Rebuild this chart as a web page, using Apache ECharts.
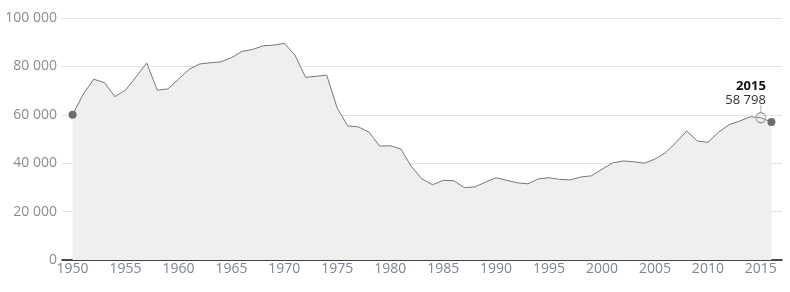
<!DOCTYPE html>
<html>
<head>
<meta charset="utf-8">
<script src="https://cdn.jsdelivr.net/npm/echarts@6/dist/echarts.min.js"></script>
<style>
  html, body { margin: 0; padding: 0; background: #fff; }
  #chart { width: 790px; height: 292px; }
</style>
</head>
<body>
<div id="chart"></div>
<script>
const years = [];
for (let y = 1950; y <= 2016; y++) years.push(y);

const values = [
  60000, 68500, 74700, 73300, 67500, 70200, 75700, 81400, 70200, 70700,
  74700, 78800, 81000, 81500, 81900, 83600, 86200, 87000, 88500, 88800,
  89500, 84700, 75500, 75900, 76400, 62700, 55400, 55000, 52800, 47100,
  47200, 45900, 38600, 33500, 31100, 32900, 32800, 29900, 30200, 32200,
  34000, 32900, 31900, 31500, 33500, 34000, 33300, 33100, 34300, 34800,
  37500, 40100, 40900, 40600, 40000, 41700, 44300, 48600, 53300, 49200,
  48600, 52800, 55900, 57400, 59200, 58798, 57000
];

const xTickLabels = [1950, 1955, 1960, 1965, 1970, 1975, 1980, 1985, 1990, 1995, 2000, 2005, 2010, 2015];
const yTicks = [0, 20000, 40000, 60000, 80000, 100000];
const highlightYear = 2015;

const fmt = v => String(v).replace(/\B(?=(\d{3})+(?!\d))/g, ' ');

const dotColor = '#6b6f6a';
const data = years.map((yr, i) => {
  const item = { value: [yr, values[i]] };
  if (i === 0 || i === years.length - 1) {
    item.symbol = 'circle';
    item.symbolSize = 8;
    item.itemStyle = { color: dotColor, borderWidth: 0 };
  } else if (yr === highlightYear) {
    item.symbol = 'path://M5 0 L5 8 M10 13 A5 5 0 1 1 0 13 A5 5 0 1 1 10 13 Z';
    item.symbolSize = [10, 18];
    item.symbolOffset = [0, -4];
    item.itemStyle = { color: 'rgba(0,0,0,0)', borderColor: '#999', borderWidth: 1 };
    item.label = {
      show: true,
      position: 'top',
      align: 'right',
      distance: 1,
      offset: [5, 4],
      formatter: p => '{y|' + p.value[0] + '}\n{v|' + fmt(p.value[1]) + '}',
      rich: {
        y: { fontFamily: 'Open Sans', fontSize: 13, fontWeight: 'bold', color: '#111', align: 'right', lineHeight: 14 },
        v: { fontFamily: 'Open Sans', fontSize: 13, color: '#333', align: 'right', lineHeight: 14 }
      }
    };
  } else {
    item.symbol = 'none';
  }
  return item;
});

const chart = echarts.init(document.getElementById('chart'), null, { renderer: 'canvas' });
chart.setOption({
  animation: false,
  backgroundColor: '#ffffff',
  textStyle: { fontFamily: 'Open Sans' },
  grid: { left: 62, right: 8, top: 18, bottom: 32, containLabel: false },
  xAxis: {
    type: 'value',
    min: 1949,
    max: 2017,
    axisLine: { show: true, lineStyle: { color: '#111', width: 1.5 } },
    axisTick: { show: false },
    splitLine: { show: false },
    axisLabel: {
      customValues: xTickLabels,
      color: '#7d8590',
      fontFamily: 'Open Sans',
      fontSize: 14,
      margin: 2,
      formatter: v => String(v)
    }
  },
  yAxis: {
    type: 'value',
    min: 0,
    max: 100000,
    interval: 20000,
    axisLine: { show: false },
    axisTick: { show: false },
    splitLine: { show: true, lineStyle: { color: '#e2e2e2', width: 1 } },
    axisLabel: {
      customValues: yTicks,
      color: '#8c8c8c',
      fontFamily: 'Open Sans',
      fontSize: 14,
      margin: 5,
      formatter: v => fmt(v)
    }
  },
  series: [{
    type: 'line',
    data: data,
    showSymbol: true,
    showAllSymbol: true,
    lineStyle: { color: '#777', width: 1 },
    areaStyle: { color: '#eff0ee', opacity: 1 },
    itemStyle: { color: dotColor },
    emphasis: { disabled: true },
    z: 2
  }]
});
</script>
</body>
</html>
